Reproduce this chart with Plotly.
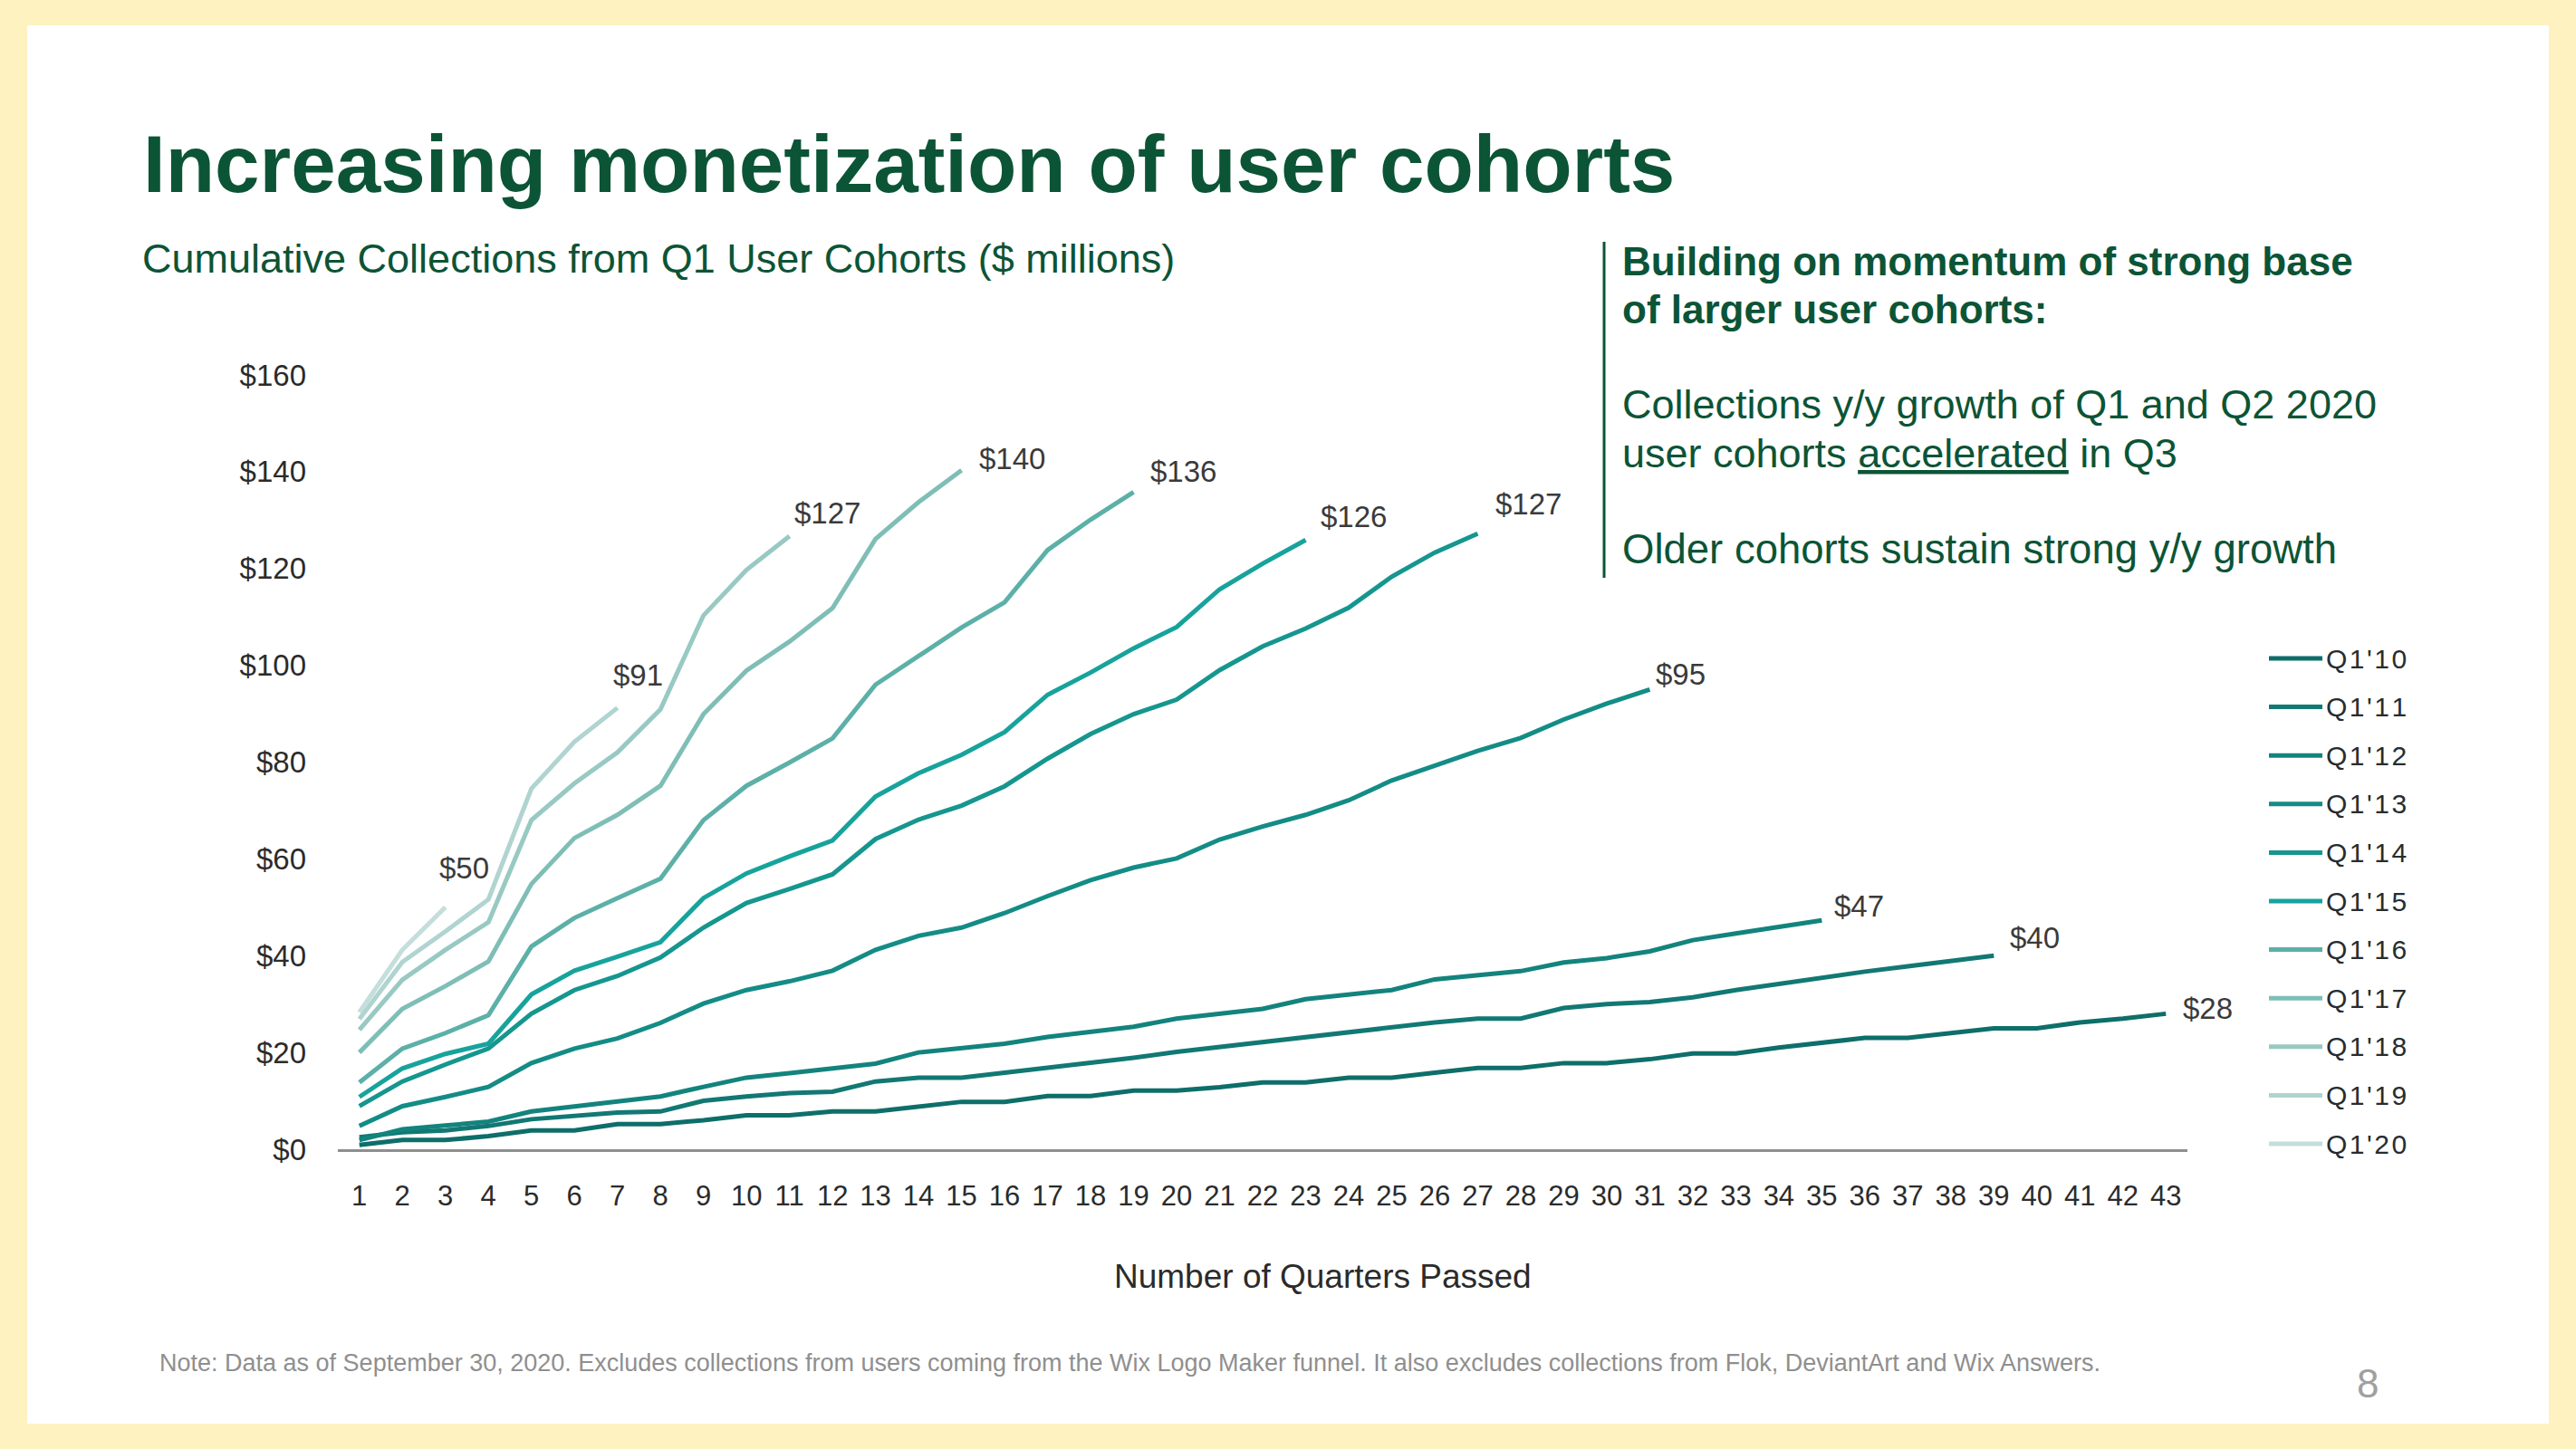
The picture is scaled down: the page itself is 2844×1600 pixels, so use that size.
import plotly.graph_objects as go

# ---------------- data ----------------
quarters = list(range(1, 44))
cohorts = ["Q1'10", "Q1'11", "Q1'12", "Q1'13", "Q1'14", "Q1'15",
           "Q1'16", "Q1'17", "Q1'18", "Q1'19", "Q1'20"]

q1_10 = [0.9, 1.9, 1.9, 2.7, 3.9, 3.9, 5.2, 5.2, 6.0, 7.0, 7.0, 7.8, 7.8, 8.9, 9.8,
         9.8, 11.0, 11.0, 12.1, 12.1, 12.8, 13.8, 13.8, 14.8, 14.8, 15.8, 16.8, 16.8,
         17.8, 17.8, 18.6, 19.8, 19.8, 21.0, 22.1, 23.0, 23.0, 24.0, 25.0, 25.0, 26.2,
         27.0, 28.0]
q1_11 = [2.5, 3.5, 3.9, 4.8, 6.2, 7.0, 7.6, 7.8, 10.0, 10.9, 11.6, 11.9, 14.0, 14.8,
         14.8, 15.8, 16.8, 17.8, 18.9, 20.1, 21.1, 22.2, 23.2, 24.2, 25.3, 26.2, 27.0,
         27.0, 29.2, 30.0, 30.4, 31.4, 32.9, 34.2, 35.4, 36.7, 37.8, 39.0, 40.0]
q1_12 = [1.9, 4.1, 4.9, 5.7, 7.8, 8.9, 10.0, 10.9, 12.9, 14.8, 15.7, 16.7, 17.7, 20.0,
         20.8, 21.8, 23.2, 24.2, 25.3, 27.0, 28.0, 29.0, 31.0, 32.0, 32.9, 35.1, 35.9,
         36.8, 38.6, 39.5, 40.9, 43.2, 44.6, 46.0, 47.3]
q1_13 = [4.8, 8.9, 10.8, 12.9, 17.8, 20.8, 22.9, 26.1, 30.1, 32.9, 34.7, 36.9, 41.2,
         44.1, 45.8, 48.8, 52.3, 55.6, 58.2, 60.1, 64.0, 66.7, 69.1, 72.1, 76.2, 79.2,
         82.3, 85.0, 88.8, 92.1, 95.0]
q1_14 = [8.9, 14.0, 17.5, 20.8, 28.0, 32.9, 35.8, 39.6, 45.8, 50.9, 53.8, 56.8, 64.1,
         68.1, 71.0, 75.0, 80.7, 85.8, 89.9, 92.9, 99.0, 103.9, 107.6, 111.9, 118.3,
         123.3, 127.2]
q1_15 = [10.8, 16.7, 19.7, 21.8, 32.0, 36.9, 39.8, 42.8, 51.9, 57.0, 60.5, 63.8, 72.9,
         77.7, 81.5, 86.2, 93.9, 98.5, 103.5, 107.9, 115.7, 121.0, 125.9]
q1_16 = [13.8, 20.8, 24.0, 27.7, 41.9, 47.8, 51.9, 55.9, 68.0, 75.1, 79.9, 84.9, 96.0,
         101.9, 107.8, 113.0, 123.8, 130.1, 135.8]
q1_17 = [20.0, 29.0, 33.7, 38.8, 54.8, 64.3, 69.1, 75.1, 89.9, 98.9, 104.9, 111.8,
         126.1, 133.7, 140.3]
q1_18 = [24.7, 35.0, 41.2, 46.9, 68.0, 75.6, 82.0, 90.9, 110.3, 119.7, 126.7]
q1_19 = [26.9, 38.7, 45.0, 51.6, 74.5, 84.2, 91.2]
q1_20 = [28.3, 41.2, 50.0]

series = [q1_10, q1_11, q1_12, q1_13, q1_14, q1_15, q1_16, q1_17, q1_18, q1_19, q1_20]

y_ticks = [0, 20, 40, 60, 80, 100, 120, 140, 160]

# ---------------- styles ----------------
colors = ["#0E6E6A", "#127873", "#13837D", "#148C86", "#15968F", "#17A39C",
          "#5CB0A8", "#7FBEB7", "#98C9C3", "#B0D4D0", "#C4DEDB"]
# end-label offsets (px right, px up)
label_shift = [(17, 6), (16, 20), (12, 16), (5, 17), (18, 33), (15, 26),
               (16, 23), (17, 13), (3, 25), (-7, 36), (-9, 43)]

FONT = "Liberation Sans, Arial, Helvetica, sans-serif"
GREEN = "#0C5436"
W, H = 2844, 1600
L, R, T, B = 373, 2415, 414, 1269


def px(x):
    return (x - L) / (R - L)


def py(y):
    return (B - y) / (B - T)


fig = go.Figure()

for name, vals, col in zip(cohorts, series, colors):
    fig.add_trace(go.Scatter(
        x=quarters[:len(vals)], y=vals, mode="lines", name=name,
        line=dict(color=col, width=5), showlegend=False, hoverinfo="skip"))

annotations = []
shapes = []

# white slide panel
shapes.append(dict(type="rect", xref="paper", yref="paper",
                   x0=px(30), x1=px(2814), y0=py(1572), y1=py(28),
                   fillcolor="white", line=dict(width=0), layer="below"))

# end labels
for vals, (dx, dy) in zip(series, label_shift):
    annotations.append(dict(
        x=len(vals), y=vals[-1], xref="x", yref="y",
        text=f"${round(vals[-1])}", showarrow=False,
        xanchor="left", yanchor="middle", xshift=dx, yshift=dy,
        font=dict(family=FONT, size=33, color="#3a3a3a")))

# manual legend
for i, (name, col) in enumerate(zip(cohorts, colors)):
    yc = 727 + 53.6 * i
    shapes.append(dict(type="line", xref="paper", yref="paper",
                       x0=px(2505), x1=px(2564), y0=py(yc), y1=py(yc),
                       line=dict(color=col, width=5)))
    annotations.append(dict(
        x=px(2566), y=py(yc), xref="paper", yref="paper",
        text="\u200a".join(name),
        showarrow=False, xanchor="left", yanchor="middle",
        font=dict(family=FONT, size=30, color="#262d31")))

# title & subtitle
annotations.append(dict(
    x=px(156), y=py(181), xref="paper", yref="paper",
    text="<b>Increasing monetization of user cohorts</b>", showarrow=False,
    xanchor="left", yanchor="middle",
    font=dict(family=FONT, size=89, color=GREEN)))
annotations.append(dict(
    x=px(155), y=py(285), xref="paper", yref="paper",
    text="Cumulative Collections from Q1 User Cohorts ($ millions)", showarrow=False,
    xanchor="left", yanchor="middle",
    font=dict(family=FONT, size=45, color=GREEN)))

# right-hand commentary
side_lines = [
    ("<b>Building on momentum of strong base</b>", 288, 44),
    ("<b>of larger user cohorts:</b>", 341, 44),
    ("Collections y/y growth of Q1 and Q2 2020", 446, 45),
    ("user cohorts <u>accelerated</u> in Q3", 500, 45),
    ("Older cohorts sustain strong y/y growth", 606, 45.5),
]
for txt, yc, fs in side_lines:
    annotations.append(dict(
        x=px(1789), y=py(yc), xref="paper", yref="paper", text=txt,
        showarrow=False, xanchor="left", yanchor="middle",
        font=dict(family=FONT, size=fs, color=GREEN)))
shapes.append(dict(type="line", xref="paper", yref="paper",
                   x0=px(1771), x1=px(1771), y0=py(267), y1=py(638),
                   line=dict(color=GREEN, width=3)))

# axis title
annotations.append(dict(
    x=px(1460), y=py(1409), xref="paper", yref="paper",
    text="Number of Quarters Passed", showarrow=False,
    xanchor="center", yanchor="middle",
    font=dict(family=FONT, size=37, color="#2b2b2b")))

# footnote & page number
annotations.append(dict(
    x=px(174), y=py(1505), xref="paper", yref="paper",
    text=("Note: Data as of September 30, 2020. Excludes collections from users coming "
          "from the Wix Logo Maker funnel. It also excludes collections from Flok, "
          "DeviantArt and Wix Answers."),
    showarrow=False, xanchor="left", yanchor="middle",
    font=dict(family=FONT, size=27, color="#8f8f8f")))
annotations.append(dict(
    x=px(2614), y=py(1527), xref="paper", yref="paper", text="8",
    showarrow=False, xanchor="center", yanchor="middle",
    font=dict(family=FONT, size=44, color="#a0a0a0")))

fig.update_layout(
    width=W, height=H,
    margin=dict(l=L, r=W - R, t=T, b=H - B, pad=0),
    paper_bgcolor="#FDF2C0",
    plot_bgcolor="white",
    font=dict(family=FONT),
    showlegend=False,
    annotations=annotations,
    shapes=shapes,
    xaxis=dict(range=[0.5, 43.5], tickmode="array", tickvals=quarters,
               ticktext=[str(q) for q in quarters],
               showgrid=False, zeroline=False, ticks="",
               showline=True, linecolor="#8e8e8e", linewidth=3,
               ticklabelstandoff=22,
               tickfont=dict(family=FONT, size=31, color="#2b2b2b")),
    yaxis=dict(range=[0, 160], tickmode="array", tickvals=y_ticks,
               ticktext=[f"${v}" for v in y_ticks],
               showgrid=False, zeroline=False, ticks="", showline=False,
               ticklabelstandoff=34,
               tickfont=dict(family=FONT, size=33, color="#2b2b2b")),
)

fig.write_html("out.html",
               config={"displayModeBar": False},
               post_script="document.body.style.margin='0';document.body.style.overflow='hidden';")
